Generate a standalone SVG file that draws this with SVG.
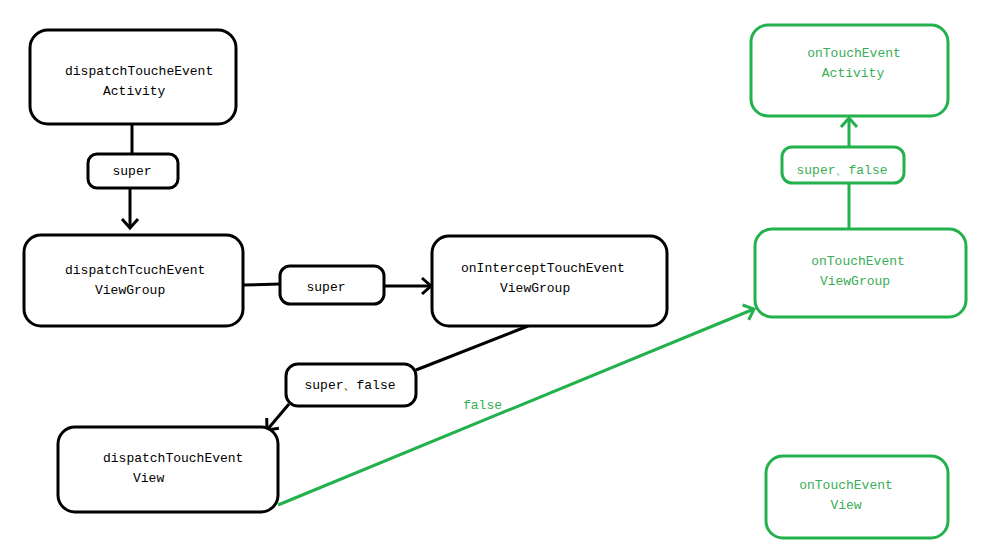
<svg xmlns="http://www.w3.org/2000/svg" width="985" height="555" viewBox="0 0 985 555">
<defs>
<style>
.b{fill:#fff;stroke:#000;stroke-width:3}
.g{fill:#fff;stroke:#22b14c;stroke-width:3}
.t{font-family:"Liberation Mono","DejaVu Sans Mono",monospace;font-size:13px;fill:#000}
.tg{font-family:"Liberation Mono","DejaVu Sans Mono",monospace;font-size:13px;fill:#3aad57}
.m{text-anchor:middle}
.lb{stroke:#000;stroke-width:3;fill:none}
.lg{stroke:#22b14c;stroke-width:3;fill:none}
</style>
<marker id="ab" markerUnits="userSpaceOnUse" markerWidth="24" markerHeight="24" refX="12" refY="12" orient="auto" overflow="visible">
<path d="M3,4 L12,12 L3,20" fill="none" stroke="#000" stroke-width="3"/>
</marker>
<marker id="ag" markerUnits="userSpaceOnUse" markerWidth="24" markerHeight="24" refX="12" refY="12" orient="auto" overflow="visible">
<path d="M3,4 L12,12 L3,20" fill="none" stroke="#22b14c" stroke-width="3"/>
</marker>
</defs>
<rect width="985" height="555" fill="#fff"/>
<g id="connectors">
<line class="lb" x1="132" y1="124" x2="132" y2="154"/>
<line class="lb" x1="130" y1="189" x2="130" y2="228" marker-end="url(#ab)"/>
<line class="lb" x1="243" y1="285" x2="281" y2="284"/>
<line class="lb" x1="384" y1="286" x2="431" y2="286" marker-end="url(#ab)"/>
<line class="lb" x1="416" y1="370" x2="528" y2="326"/>
<line class="lb" x1="289" y1="404" x2="267" y2="430" marker-end="url(#ab)"/>
<line class="lg" x1="278" y1="505" x2="754" y2="309" marker-end="url(#ag)"/>
<text class="tg" x="463" y="409">false</text>
<line class="lg" x1="849" y1="229" x2="849" y2="184"/>
<line class="lg" x1="849" y1="147" x2="849" y2="118" marker-end="url(#ag)"/>
</g>
<g id="dispatch-activity">
<rect class="b" x="30" y="30" width="206" height="94" rx="18"/>
<text class="t" x="65" y="75">dispatchToucheEvent</text>
<text class="t" x="103" y="95">Activity</text>
</g>
<g id="label-super-1">
<rect class="b" x="88" y="154" width="90" height="34" rx="9"/>
<text class="t m" x="132" y="175">super</text>
</g>
<g id="dispatch-viewgroup">
<rect class="b" x="24" y="235" width="219" height="91" rx="17"/>
<text class="t" x="65" y="274">dispatchTcuchEvent</text>
<text class="t" x="95" y="294">ViewGroup</text>
</g>
<g id="label-super-2">
<rect class="b" x="280" y="266" width="104" height="38" rx="10"/>
<text class="t m" x="326" y="291">super</text>
</g>
<g id="intercept-viewgroup">
<rect class="b" x="432" y="236" width="235" height="90" rx="17"/>
<text class="t" x="461" y="272">onInterceptTouchEvent</text>
<text class="t" x="500" y="292">ViewGroup</text>
</g>
<g id="label-super-false-1">
<rect class="b" x="286" y="364" width="130" height="42" rx="12"/>
<text class="t m" x="350" y="389">super、false</text>
</g>
<g id="dispatch-view">
<rect class="b" x="58" y="427" width="220" height="85" rx="17"/>
<text class="t" x="103" y="462">dispatchTouchEvent</text>
<text class="t" x="133" y="482">View</text>
</g>
<g id="ontouch-activity">
<rect class="g" x="751" y="25" width="197" height="91" rx="17"/>
<text class="tg m" x="854" y="57">onTouchEvent</text>
<text class="tg m" x="853" y="77">Activity</text>
</g>
<g id="label-super-false-2">
<rect class="g" x="782" y="147" width="122" height="36" rx="10"/>
<text class="tg m" x="842" y="174">super、false</text>
</g>
<g id="ontouch-viewgroup">
<rect class="g" x="755" y="229" width="211" height="88" rx="17"/>
<text class="tg m" x="858" y="265">onTouchEvent</text>
<text class="tg m" x="855" y="285">ViewGroup</text>
</g>
<g id="ontouch-view">
<rect class="g" x="766" y="456" width="182" height="82" rx="17"/>
<text class="tg m" x="846" y="489">onTouchEvent</text>
<text class="tg m" x="846" y="509">View</text>
</g>
</svg>
